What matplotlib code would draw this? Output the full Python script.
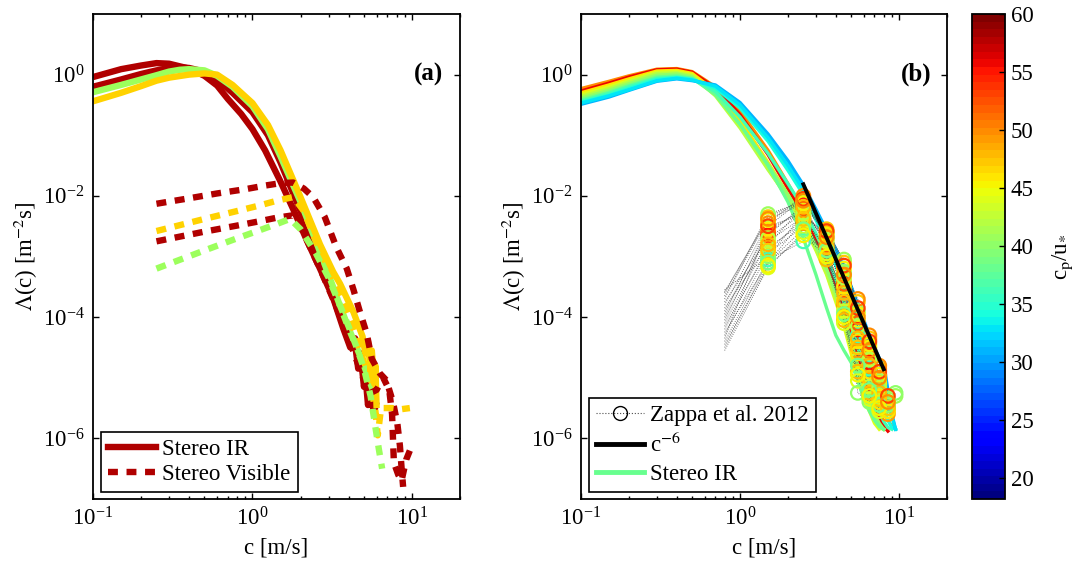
import numpy as np
import matplotlib
matplotlib.use("Agg")
import matplotlib.pyplot as plt
from matplotlib.colors import Normalize
from matplotlib.lines import Line2D
from matplotlib.ticker import FixedLocator, NullLocator, LogFormatterSciNotation, LogLocator, NullFormatter
import matplotlib.colorbar as mcolorbar

FS = 16.5
plt.rcParams['font.family'] = ['Liberation Serif', 'DejaVu Serif']
plt.rcParams['mathtext.fontset'] = 'stix'
plt.rcParams['font.size'] = FS

# ---------------- panel (a): Stereo IR (solid) and Stereo Visible (dashed) ----------------
RED, GREEN, YELLOW = '#B00000', '#9CFF5C', '#FFD200'

ir_red1_c = [0.1, 0.15, 0.2, 0.25, 0.3, 0.4, 0.5, 0.6, 0.7, 0.85, 1.0, 1.2, 1.49, 1.8, 2.18, 2.65,
             3.2, 3.7, 4.1, 4.4, 4.6, 4.8, 5.0, 5.1, 5.3, 5.5, 5.7, 5.9]
ir_red1_log = [-0.04, 0.09, 0.15, 0.19, 0.18, 0.10, -0.02, -0.18, -0.40, -0.65, -0.90, -1.25, -1.75,
               -2.22, -2.72, -3.20, -3.68, -4.18, -4.50, -4.45, -4.85, -4.70, -5.15, -4.95, -5.45,
               -5.10, -5.50, -5.35]

ir_red2_c = [0.1, 0.15, 0.2, 0.25, 0.3, 0.35, 0.4, 0.5, 0.6, 0.75, 1.0, 1.25, 1.5, 2.0, 2.5, 3.0,
             3.5, 3.8, 4.1, 4.4, 4.6, 4.8, 5.0, 5.2, 5.4, 5.6, 5.8, 6.0]
ir_red2_log = [-0.20, -0.08, 0.01, 0.07, 0.11, 0.12, 0.11, 0.05, -0.08, -0.30, -0.62, -1.00, -1.45,
               -2.25, -2.90, -3.45, -3.95, -4.20, -4.45, -4.35, -4.75, -4.60, -5.00, -4.80, -5.30,
               -5.05, -5.55, -5.40]

ir_green_c = [0.1, 0.15, 0.2, 0.25, 0.3, 0.35, 0.4, 0.5, 0.6, 0.75, 1.0, 1.25, 1.5, 2.0, 2.5, 3.0,
              3.5, 4.0, 4.5, 5.0, 5.5, 5.9]
ir_green_log = [-0.29, -0.17, -0.08, -0.01, 0.05, 0.08, 0.09, 0.07, -0.02, -0.20, -0.52, -0.90, -1.35,
                -2.10, -2.75, -3.30, -3.78, -4.18, -4.50, -4.80, -5.10, -5.34]

ir_yellow_c = [0.1, 0.15, 0.2, 0.25, 0.3, 0.4, 0.5, 0.6, 0.75, 1.0, 1.25, 1.5, 2.0, 2.65, 3.2, 3.54,
               4.3, 4.9, 5.1, 5.3, 5.5, 5.6, 5.8, 5.9, 6.0]
ir_yellow_log = [-0.44, -0.30, -0.19, -0.10, -0.05, 0.00, 0.02, 0.00, -0.17, -0.47, -0.83, -1.25,
                 -2.02, -2.80, -3.25, -3.45, -3.92, -4.32, -4.60, -4.40, -4.90, -4.55, -5.10, -4.80,
                 -5.50]

vis_red1_c = [0.25, 0.4, 0.6, 0.9, 1.2, 1.5, 1.8, 2.1, 2.4, 2.84, 3.36, 3.9, 4.3, 4.7, 5.2, 5.6, 6.3,
              6.9, 7.6, 8.1, 8.4, 8.6, 8.8]
vis_red1_log = [-2.13, -2.04, -1.96, -1.89, -1.83, -1.79, -1.78, -1.88, -2.02, -2.35, -2.85, -3.20,
                -3.55, -3.90, -4.27, -4.69, -4.93, -5.04, -5.40, -5.76, -6.12, -6.48, -6.80]

vis_red2_c = [0.25, 0.5, 0.8, 1.1, 1.42, 1.8, 2.0, 2.3, 2.7, 3.2, 3.7, 4.2, 4.7, 5.1, 5.5, 6.0, 6.6,
              7.2, 7.5, 7.6, 7.7, 8.2, 8.6, 9.2, 9.7]
vis_red2_log = [-2.75, -2.59, -2.49, -2.42, -2.36, -2.32, -2.50, -2.85, -3.25, -3.70, -4.10, -4.50,
                -4.85, -5.10, -5.25, -5.20, -5.00, -5.20, -5.60, -6.00, -6.40, -6.60, -6.70, -6.35,
                -6.20]

vis_yellow_c = [0.25, 0.5, 0.8, 1.1, 1.42, 1.8, 2.1, 2.5, 3.0, 3.5, 4.0, 4.5, 5.0, 5.5, 5.9, 6.1, 6.4,
                7.5, 8.5, 9.7]
vis_yellow_log = [-2.58, -2.38, -2.25, -2.16, -2.08, -2.02, -2.25, -2.75, -3.20, -3.55, -3.95, -4.35,
                  -4.75, -5.10, -5.55, -5.95, -5.50, -5.50, -5.52, -5.50]

vis_green_c = [0.25, 0.5, 0.8, 1.1, 1.4, 1.72, 2.0, 2.5, 3.0, 3.5, 4.0, 4.5, 5.0, 5.5, 5.9, 6.2, 6.5]
vis_green_log = [-3.20, -2.90, -2.70, -2.57, -2.47, -2.38, -2.55, -2.95, -3.35, -3.78, -4.15, -4.50,
                 -4.85, -5.30, -5.82, -6.18, -6.50]

# ---------------- panel (b): Stereo IR spectra coloured by wave age ----------------
grid_c = [0.1, 0.15, 0.2, 0.3, 0.4, 0.5, 0.7, 1.0, 1.5, 2.0, 2.5, 3.0, 3.5, 4.0, 4.5, 5.0, 5.5, 6.0,
          6.5, 7.0, 7.5, 8.0, 8.5, 9.0, 9.5]
nan = np.nan
ir_wave_age = [50, 56, 46, 44, 42, 40, 38, 36, 34, 31, 33]
ir_spectra_log = [
    [-0.23, -0.11, -0.02, 0.09, 0.10, 0.05, -0.20, -0.60, -1.25, -1.80, -2.25, -2.65, -3.00, -3.35, -3.70, -4.05, -4.40, -4.70, -4.95, -5.15, -5.35, -5.55, -5.70, -5.80, nan],
    [-0.27, -0.14, -0.04, 0.08, 0.09, 0.04, -0.22, -0.66, -1.32, -1.88, -2.32, -2.75, -3.12, -3.50, -3.90, -4.30, -4.65, -4.95, -5.20, -5.45, -5.65, -5.80, -5.88, nan, nan],
    [-0.30, -0.17, -0.07, 0.06, 0.07, 0.02, -0.27, -0.75, -1.45, -1.98, -2.42, -2.85, -3.25, -3.65, -4.05, -4.50, -4.90, -5.25, -5.50, -5.70, -5.80, -5.85, nan, nan, nan],
    [-0.33, -0.20, -0.10, 0.04, 0.05, 0.00, -0.32, -0.84, -1.55, -2.05, -2.47, -2.90, -3.30, -3.75, -4.15, -4.60, -5.00, -5.35, -5.55, -5.75, -5.85, nan, nan, nan, nan],
    [-0.36, -0.23, -0.12, 0.02, 0.03, -0.02, -0.35, -0.88, -1.57, -2.03, -2.45, -2.88, -3.28, -3.70, -4.10, -4.50, -4.90, -5.25, -5.50, -5.70, -5.82, -5.85, nan, nan, nan],
    [-0.39, -0.26, -0.15, -0.01, 0.01, -0.04, -0.33, -0.82, -1.48, -1.98, -2.40, -2.82, -3.20, -3.60, -4.00, -4.40, -4.80, -5.10, -5.40, -5.60, -5.75, -5.85, nan, nan, nan],
    [-0.42, -0.29, -0.18, -0.04, -0.02, -0.06, -0.33, -0.82, -1.50, -2.10, -2.70, -3.30, -3.85, -4.30, -4.55, -4.75, -5.05, -5.35, -5.55, -5.70, -5.80, -5.85, nan, nan, nan],
    [-0.44, -0.31, -0.20, -0.06, -0.04, -0.07, -0.28, -0.70, -1.30, -1.80, -2.20, -2.62, -3.00, -3.38, -3.75, -4.12, -4.50, -4.82, -5.10, -5.35, -5.55, -5.72, -5.82, -5.85, nan],
    [-0.46, -0.34, -0.23, -0.08, -0.05, -0.08, -0.22, -0.55, -1.10, -1.58, -1.98, -2.40, -2.78, -3.15, -3.50, -3.85, -4.20, -4.50, -4.80, -5.05, -5.30, -5.50, -5.70, -5.82, -5.85],
    [-0.49, -0.37, -0.26, -0.11, -0.07, -0.10, -0.17, -0.46, -0.98, -1.42, -1.82, -2.22, -2.57, -2.88, -3.18, -3.50, -3.80, -4.05, -4.30, -4.50, -4.68, -4.78, -5.20, -5.60, -5.85],
    [-0.47, -0.35, -0.25, -0.10, -0.06, -0.09, -0.19, -0.50, -1.04, -1.50, -1.90, -2.30, -2.68, -3.02, -3.35, -3.68, -4.00, -4.30, -4.58, -4.80, -5.00, -5.20, -5.45, -5.65, -5.85],
]

# Zappa et al. (2012) profiles: the first bin (0.8 m/s) has no marker
zappa_c = [0.8, 1.5, 2.5, 3.5, 4.5, 5.5, 6.5, 7.5, 8.5, 9.5]
zappa_wave_age = [47, 41, 50, 45, 55, 46, 49, 43, 36, 48, 44, 40, 52, 46,
                  45, 42, 48, 47, 39, 53, 45, 50]
zappa_log = [
    [-3.60, -2.35, -2.05, -2.55, -3.10, -3.75, -4.35, -4.85, nan, nan],
    [-3.70, -2.30, -2.10, -2.60, -3.05, -3.90, -4.60, -5.05, -5.35, -5.30],
    [-3.80, -2.45, -2.00, -2.70, -3.30, -3.70, -4.30, -4.80, -5.45, nan],
    [-3.90, -2.55, -2.25, -2.75, -3.40, -4.05, -4.50, -5.10, -5.50, nan],
    [-4.00, -2.65, -2.15, -2.85, -3.55, -4.20, -4.75, -5.20, nan, nan],
    [-4.10, -2.75, -2.35, -2.90, -3.70, -4.40, -4.90, -5.30, -5.55, nan],
    [-4.20, -2.85, -2.45, -2.95, -3.80, -4.55, -5.05, -5.35, -5.60, nan],
    [-4.30, -2.95, -2.50, -3.00, -3.90, -4.70, -5.15, -5.45, nan, nan],
    [-4.40, -3.05, -2.75, -2.80, -3.60, -4.30, -4.85, -5.25, -5.50, nan],
    [-4.50, -3.10, -2.40, -3.05, -4.05, -4.90, -5.25, -5.50, nan, nan],
    [-4.55, -3.18, -2.60, -2.95, -4.10, -5.05, -5.35, -5.55, nan, nan],
    [-3.55, -3.00, -2.30, -2.65, -3.25, -5.25, -5.40, -5.20, -5.45, -5.25],
    [-4.05, -2.60, -2.20, -2.80, -3.45, -4.10, -4.65, -4.95, nan, nan],
    [-3.95, -2.50, -2.30, -2.65, -3.50, -4.60, -5.00, -5.40, -5.55, nan],
    [-3.65, -2.40, -2.12, -2.62, -3.20, -3.95, -4.45, -4.95, nan, nan],
    [-3.75, -2.70, -2.28, -2.72, -3.35, -4.15, -4.70, -5.15, -5.40, nan],
    [-3.85, -2.80, -2.18, -2.60, -3.60, -4.35, -4.80, -5.25, nan, nan],
    [-4.15, -2.90, -2.38, -2.85, -3.75, -4.50, -5.00, -5.35, -5.50, nan],
    [-4.25, -3.10, -2.55, -2.90, -3.95, -4.80, -5.20, -5.45, nan, nan],
    [-4.35, -2.50, -2.05, -2.58, -3.15, -3.85, -4.40, -4.90, -5.30, nan],
    [-4.45, -3.15, -2.65, -3.00, -4.00, -4.95, -5.30, -5.50, nan, nan],
    [-3.58, -2.38, -2.08, -2.68, -3.30, -4.00, -4.55, -5.00, -5.40, nan],
]

ref_c = [2.5, 8.0]
ref_lambda = [1.55e-2, 1.38e-5]

wave_age_range = (18.2, 60)
wave_age_ticks = [20, 25, 30, 35, 40, 45, 50, 55, 60]
x_limits = (0.1, 20)
y_limits = (1e-7, 10)
y_ticks = [1e-6, 1e-4, 1e-2, 1e0]

# ---------------- figure ----------------
W, H = 1082, 565
fig = plt.figure(figsize=(W / 100, H / 100), dpi=100)
ax_a = fig.add_axes([93 / W, 66 / H, 367 / W, 485 / H])
ax_b = fig.add_axes([581 / W, 66 / H, 366 / W, 485 / H])
cax = fig.add_axes([972 / W, 66 / H, 33 / W, 485 / H])

cmap = plt.get_cmap('jet', 64)
norm = Normalize(*wave_age_range)


def pw(vals):
    return 10.0 ** np.asarray(vals, dtype=float)


LW = 4.6
DASH = (1.55, 1.35)

for c, v, col in [(ir_red1_c, ir_red1_log, RED), (ir_red2_c, ir_red2_log, RED),
                  (ir_green_c, ir_green_log, GREEN), (ir_yellow_c, ir_yellow_log, YELLOW)]:
    ax_a.plot(c, pw(v), '-', color=col, lw=LW, solid_joinstyle='round', solid_capstyle='butt')

for c, v, col in [(vis_red1_c, vis_red1_log, RED), (vis_yellow_c, vis_yellow_log, YELLOW),
                  (vis_red2_c, vis_red2_log, RED), (vis_green_c, vis_green_log, GREEN)]:
    ax_a.plot(c, pw(v), color=col, lw=LW, dashes=DASH, dash_capstyle='butt')

# panel (b) curves
for age, spec in zip(ir_wave_age, ir_spectra_log):
    ax_b.plot(grid_c, pw(spec), '-', color=cmap(norm(age)), lw=2.4)

for age, prof in zip(zappa_wave_age, zappa_log):
    ax_b.plot(zappa_c, pw(prof), ':', color='0.3', lw=0.6)
for age, prof in zip(zappa_wave_age, zappa_log):
    ax_b.scatter(zappa_c[1:], pw(prof[1:]), s=95, facecolors='none',
                 edgecolors=[cmap(norm(age))], linewidths=1.6, zorder=3)

ax_b.plot(ref_c, ref_lambda, '-', color='k', lw=2.8, zorder=4)

for ax in (ax_a, ax_b):
    ax.set_xscale('log')
    ax.set_yscale('log')
    ax.set_xlim(*x_limits)
    ax.set_ylim(*y_limits)
    ax.yaxis.set_major_locator(FixedLocator(y_ticks))
    ax.yaxis.set_minor_locator(NullLocator())
    ax.yaxis.set_major_formatter(LogFormatterSciNotation())
    ax.xaxis.set_major_locator(LogLocator(base=10, numticks=10))
    ax.xaxis.set_minor_locator(LogLocator(base=10, subs=np.arange(2, 10), numticks=10))
    ax.xaxis.set_minor_formatter(NullFormatter())
    ax.tick_params(which='both', direction='in', top=True, right=True, labelsize=FS, width=1.0)
    ax.tick_params(which='major', length=4.5, pad=6)
    ax.tick_params(which='minor', length=2.2)
    for s in ax.spines.values():
        s.set_linewidth(1.3)
    ax.set_xlabel('c [m/s]', fontsize=FS, labelpad=5)
    ax.set_ylabel(r'$\Lambda$(c) [m$^{-2}$s]', fontsize=FS, labelpad=2)

ax_a.text(0.953, 0.876, '(a)', transform=ax_a.transAxes, ha='right', va='center',
          fontsize=18, fontweight='bold')
ax_b.text(0.958, 0.876, '(b)', transform=ax_b.transAxes, ha='right', va='center',
          fontsize=18, fontweight='bold')

leg_a = ax_a.legend(handles=[Line2D([], [], color=RED, lw=LW),
                             Line2D([], [], color=RED, lw=LW, dashes=DASH)],
                    labels=['Stereo IR', 'Stereo Visible'], loc='lower left',
                    bbox_to_anchor=(0.022, 0.014), borderaxespad=0, fancybox=False,
                    edgecolor='k', framealpha=1, handlelength=2.1, handletextpad=0.28,
                    labelspacing=0.18, borderpad=0.3, fontsize=FS)
leg_a.get_frame().set_linewidth(1.2)

zappa_handle = Line2D([], [], color='0.3', lw=0.8, ls=':', marker='o', markersize=10,
                     markerfacecolor='none', markeredgecolor='k', markeredgewidth=1.0)
leg_b = ax_b.legend(handles=[zappa_handle, Line2D([], [], color='k', lw=3.5),
                             Line2D([], [], color=cmap(norm(38)), lw=3.5)],
                    labels=['Zappa et al. 2012', r'c$^{-6}$', 'Stereo IR'], loc='lower left',
                    bbox_to_anchor=(0.022, 0.014), borderaxespad=0, fancybox=False,
                    edgecolor='k', framealpha=1, handlelength=2.1, handletextpad=0.28,
                    labelspacing=0.3, borderpad=0.3, fontsize=FS)
leg_b.get_frame().set_linewidth(1.2)

cb = mcolorbar.ColorbarBase(cax, cmap=cmap, norm=norm, ticks=wave_age_ticks)
cb.outline.set_linewidth(1.3)
cax.tick_params(direction='in', length=4, width=1.0, labelsize=FS, pad=4)
cb.set_label(r'c$_\mathrm{p}$/u$_\mathrm{*}$', fontsize=FS, labelpad=12)

fig.savefig('out.png', dpi=100)
